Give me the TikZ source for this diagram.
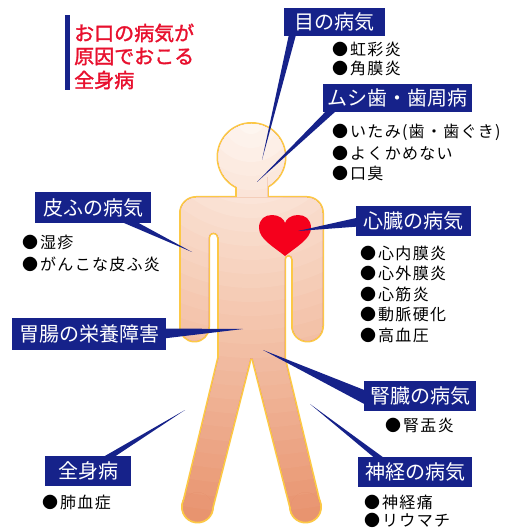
\documentclass[tikz,border=0pt]{standalone}
\usepackage{fontspec}
\setmainfont{Noto Sans CJK JP}
\newfontfamily\jpbold{Noto Sans CJK JP}[FakeBold=1.5]
\newfontfamily\jplist{Noto Sans CJK JP}[LetterSpace=8]
\usetikzlibrary{calc}

\definecolor{navy}{RGB}{22,34,138}
\definecolor{alert}{RGB}{232,16,46}
\definecolor{rim}{RGB}{252,200,70}
\definecolor{skinA}{RGB}{255,249,245}
\definecolor{skinB}{RGB}{245,202,179}
\definecolor{skinC}{RGB}{232,147,110}
\definecolor{heartred}{RGB}{245,0,28}

\pgfdeclarelayer{body}
\pgfdeclarelayer{links}
\pgfsetlayers{body,links,main}

\tikzset{
  tagbox/.style={fill=navy, text=white, inner sep=0pt,
    font=\fontsize{20}{22}\selectfont, minimum height=30pt},
  item/.style={anchor=west, inner sep=0pt, font=\jplist\fontsize{16}{18}\selectfont},
  titleline/.style={anchor=west, inner sep=0pt, text=alert,
    font=\jpbold\fontsize{20}{22}\selectfont},
  rimline/.style={draw=rim, line width=4pt, line join=round},
}

% concentric skin-tone bands, lighter around the head
\newcommand\skinbands{%
  \foreach \r in {420,406,...,14}{%
    \ifnum\r<190
      \pgfmathsetmacro\p{\r/1.9}%
      \colorlet{band}{skinB!\p!skinA}%
    \else
      \pgfmathsetmacro\p{(\r-190)/2.2}%
      \colorlet{band}{skinC!\p!skinB}%
    \fi
    \fill[band] (251,120) circle[radius=\r];
  }}
\newcommand\bodypart[1]{\begin{scope}\clip #1; \skinbands\end{scope}}
% tapered pointer from a label to a spot on the figure
\newcommand\link[3]{\fill[navy] ($(#1)!#3!90:(#2)$) -- (#2) -- ($(#1)!#3!-90:(#2)$) -- cycle;}
\newcommand\bul{●\hspace{2pt}}

% outline pieces of the figure
\newcommand\headp{(251.5,157) circle[radius=33]}
\newcommand\neckp{(237,178) rectangle (267,200)}
\newcommand\trunkp{(181,213) arc[start angle=180, end angle=270, radius=15]
  -- (307,198) arc[start angle=270, end angle=360, radius=15]
  -- (322,326) arc[start angle=0, end angle=180, radius=14.5]
  -- (293,259) arc[start angle=0, end angle=-180, radius=4.5]
  -- (284,358) -- (219,358) -- (219,237.5)
  arc[start angle=0, end angle=-180, radius=5.5]
  -- (208,327) arc[start angle=0, end angle=180, radius=13.5] -- cycle}
\newcommand\legLp{(219,358) -- (250,358) -- (212,507) -- (183,507) -- cycle}
\newcommand\footLp{(197.5,507) circle[radius=14.5]}
\newcommand\legRp{(253,358) -- (284,358) -- (320,507) -- (291,507) -- cycle}
\newcommand\footRp{(305.5,507) circle[radius=14.5]}

\begin{document}
\begin{tikzpicture}[x=1pt, y=-1pt]
\useasboundingbox (0,0) rectangle (517,529);

% heading
\fill[navy] (65,15) rectangle (70,90);
\node[titleline] (t1) at (74,33) {お口の病気が};
\node[titleline] (t2) at (74,56.5) {原因でおこる};
\node[titleline] (t3) at (74,80) {全身病};

% labels
\node[tagbox, minimum width=101pt, minimum height=28pt] (eye) at (334.5,22) {目の病気};
\node[tagbox, minimum width=149pt, minimum height=28pt] (teeth) at (397.5,98) {ムシ歯・歯周病};
\node[tagbox, minimum width=115pt] (heart) at (413.5,221) {心臓の病気};
\node[tagbox, minimum width=116pt] (skin) at (93,207.5) {皮ふの病気};
\node[tagbox, minimum width=154pt, minimum height=32pt] (gut) at (89,333.5) {胃腸の栄養障害};
\node[tagbox, minimum width=86pt] (whole) at (88,471) {全身病};
\node[tagbox, minimum width=112pt] (kidney) at (420,396) {腎臓の病気};
\node[tagbox, minimum width=114pt] (nerve) at (415,471.5) {神経の病気};

% disease lists
\node[item] (eyeA) at (332,49) {\bul 虹彩炎};
\node[item] (eyeB) at (332,68) {\bul 角膜炎};
\node[item] (teethA) at (332,132) {\bul いたみ(歯・歯ぐき)};
\node[item] (teethB) at (332,153) {\bul よくかめない};
\node[item] (teethC) at (332,173) {\bul 口臭};
\node[item] (heartA) at (360,253) {\bul 心内膜炎};
\node[item] (heartB) at (360,273.5) {\bul 心外膜炎};
\node[item] (heartC) at (360,294) {\bul 心筋炎};
\node[item] (heartD) at (360,314.5) {\bul 動脈硬化};
\node[item] (heartE) at (360,335) {\bul 高血圧};
\node[item] (skinA) at (22,242) {\bul 湿疹};
\node[item] (skinB) at (22,264) {\bul がんこな皮ふ炎};
\node[item] (wholeA) at (42,502) {\bul 肺血症};
\node[item] (kidneyA) at (385,425) {\bul 腎盂炎};
\node[item] (nerveA) at (364,502) {\bul 神経痛};
\node[item] (nerveB) at (364,520) {\bul リウマチ};

% figure
\begin{pgfonlayer}{body}
  \fill[white] (0,0) rectangle (517,529);
  \foreach \part in {\headp,\neckp,\trunkp,\legLp,\footLp,\legRp,\footRp}
    {\draw[rimline] \part;}
  \bodypart{\headp}
  \bodypart{\neckp}
  \bodypart{\trunkp}
  \bodypart{\legLp}
  \bodypart{\footLp}
  \bodypart{\legRp}
  \bodypart{\footRp}
  \fill[heartred] (285,256) .. controls (274,247) and (259,239) .. (259,228)
    .. controls (259,219) and (265,215) .. (272,215)
    .. controls (279,215) and (284,219) .. (285,223)
    .. controls (286,219) and (291,215) .. (298,215)
    .. controls (305,215) and (311,219) .. (311,228)
    .. controls (311,239) and (296,247) .. (285,256) -- cycle;
\end{pgfonlayer}

% pointers
\coordinate (eyeBase) at ($(eye.south west)+(9,-3)$);
\coordinate (eyeTip) at (262,160);
\coordinate (teethBase) at ($(teeth.south west)+(10,-3)$);
\coordinate (teethTip) at (257,182);
\coordinate (heartBase) at ($(heart.west)+(3,1)$);
\coordinate (heartTip) at (298,231);
\coordinate (skinBase) at ($(skin.south east)+(-26,-3)$);
\coordinate (skinTip) at (192,252);
\coordinate (gutBase) at ($(gut.east)+(-3,0)$);
\coordinate (gutTip) at (243,329);
\coordinate (wholeBase) at ($(whole.north)+(18,3)$);
\coordinate (wholeTip) at (185,410);
\coordinate (kidneyBase) at ($(kidney.west)+(3,2)$);
\coordinate (kidneyTip) at (263,350);
\coordinate (nerveBase) at ($(nerve.north west)+(23,3)$);
\coordinate (nerveTip) at (310,404);
\begin{pgfonlayer}{links}
  \link{eyeBase}{eyeTip}{3.5pt}
  \link{teethBase}{teethTip}{3.5pt}
  \link{heartBase}{heartTip}{4.5pt}
  \link{skinBase}{skinTip}{3.5pt}
  \link{gutBase}{gutTip}{5pt}
  \link{wholeBase}{wholeTip}{3pt}
  \link{kidneyBase}{kidneyTip}{6.5pt}
  \link{nerveBase}{nerveTip}{3pt}
\end{pgfonlayer}
\end{tikzpicture}
\end{document}
